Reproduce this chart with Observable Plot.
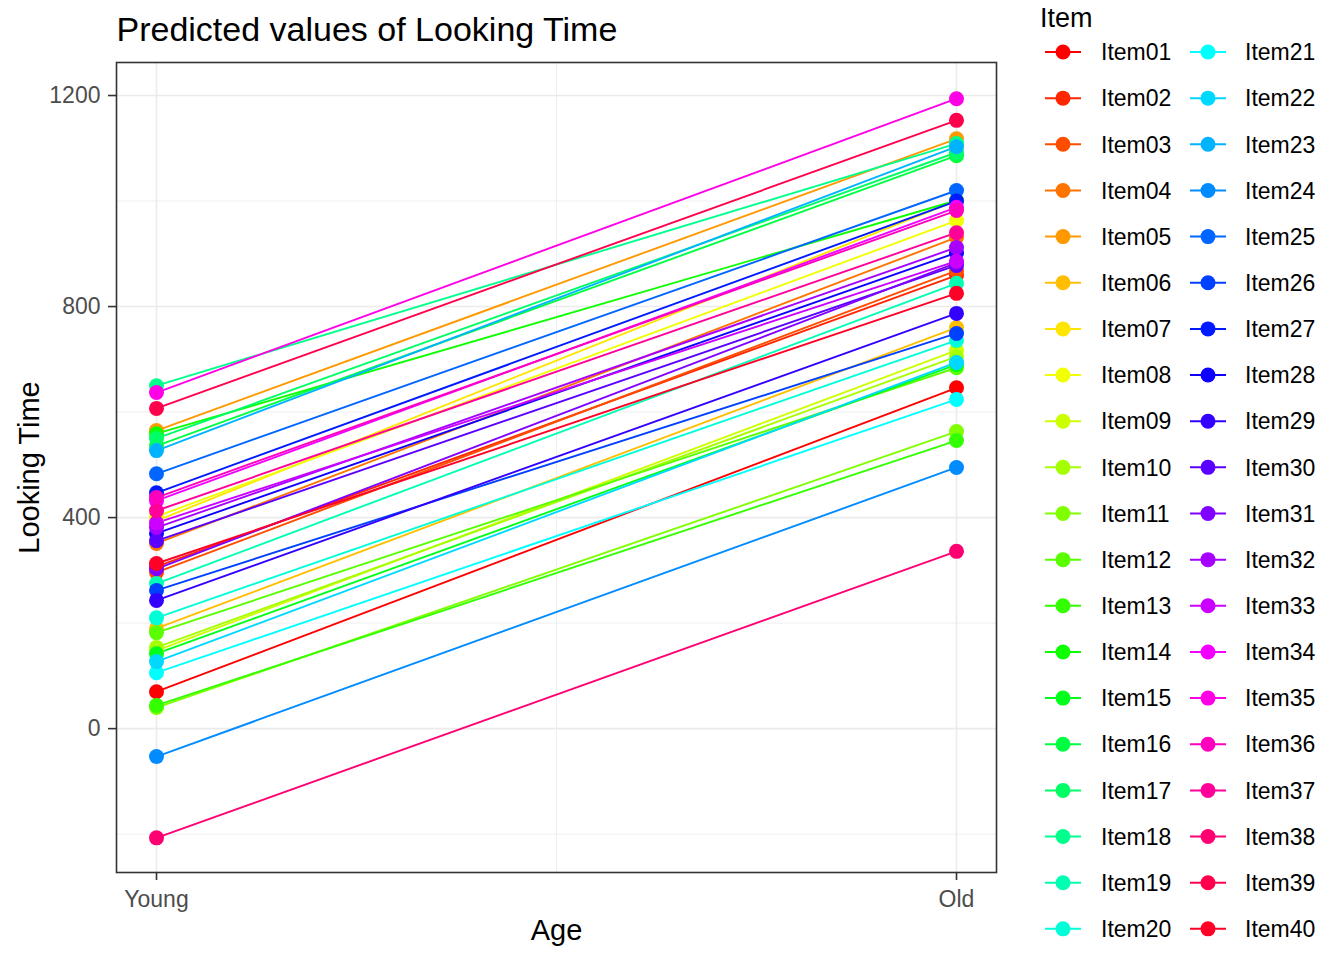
<!DOCTYPE html>
<html><head><meta charset="utf-8">
<script src="https://cdn.jsdelivr.net/npm/d3@7"></script>
<script src="https://cdn.jsdelivr.net/npm/@observablehq/plot@0.6"></script>
<style>
body{margin:0;background:#fff;}
#wrap{position:relative;width:1344px;height:960px;overflow:hidden;font-family:"Liberation Sans",Arial,sans-serif;background:#fff;}
#wrap svg.legend{position:absolute;left:0;top:0;pointer-events:none;}
</style></head><body><div id="wrap"></div>
<script>
const items = ["Item01","Item02","Item03","Item04","Item05","Item06","Item07","Item08","Item09","Item10",
  "Item11","Item12","Item13","Item14","Item15","Item16","Item17","Item18","Item19","Item20",
  "Item21","Item22","Item23","Item24","Item25","Item26","Item27","Item28","Item29","Item30",
  "Item31","Item32","Item33","Item34","Item35","Item36","Item37","Item38","Item39","Item40"];
const young = [70,307,296,351,565,190,394,402,148,154,
  40,182,44,559,142,536,550,650,275,210,
  106,127,527,-53,483,262,447,370,243,356,
  303,381,390,432,637,438,413,-207,607,313];
const old = [646,859,868,931,1118,760,1001,963,717,705,
  563,684,546,1001,690,1086,1092,1109,844,736,
  624,694,1103,495,1020,749,1000,902,787,878,
  883,912,886,988,1194,982,940,336,1153,825];
const ageLabels = ["Young","Old"];
const colors = ["#FF0000","#FF2600","#FF4D00","#FF7300","#FF9900","#FFBF00","#FFE500","#F2FF00","#CCFF00","#A6FF00",
  "#80FF00","#59FF00","#33FF00","#0DFF00","#00FF1A","#00FF40","#00FF66","#00FF8C","#00FFB3","#00FFD9",
  "#00FFFF","#00D9FF","#00B3FF","#008CFF","#0066FF","#0040FF","#001AFF","#0D00FF","#3300FF","#5900FF",
  "#8000FF","#A600FF","#CC00FF","#F200FF","#FF00E6","#FF00BF","#FF0099","#FF0073","#FF004D","#FF0026"];
const yTicks = [0,400,800,1200];
const yMinor = [-200,200,600,1000];

const data = items.flatMap((it,i)=>[
  {item:it, age:0, value:young[i]},
  {item:it, age:1, value:old[i]}
]);

const font = "'Liberation Sans', Arial, sans-serif";
const chart = Plot.plot({
  width:1344, height:960,
  marginLeft:116, marginRight:348, marginTop:62, marginBottom:88,
  style:{fontFamily:font, background:"white", color:"black"},
  x:{domain:[-0.05,1.05]},
  y:{domain:[-272.7,1262.6]},
  color:{type:"ordinal", domain:items, range:colors},
  marks:[
    Plot.ruleY(yMinor,{stroke:"#EBEBEB",strokeWidth:0.8}),
    Plot.ruleX([0.5],{stroke:"#EBEBEB",strokeWidth:0.8}),
    Plot.ruleY(yTicks,{stroke:"#EBEBEB",strokeWidth:1.6}),
    Plot.ruleX([0,1],{stroke:"#EBEBEB",strokeWidth:1.6}),
    Plot.line(data,{x:"age",y:"value",z:"item",stroke:"item",strokeWidth:1.9}),
    Plot.dot(data,{x:"age",y:"value",fill:"item",r:7.5}),
    Plot.frame({stroke:"#333333",strokeWidth:1.6}),
    Plot.axisY(yTicks,{anchor:"left",tickSize:8,tickPadding:8,fontSize:23,tickFormat:d=>String(d),stroke:"#333333",strokeWidth:1.6,fill:"#4D4D4D",label:null}),
    Plot.axisX([0,1],{anchor:"bottom",tickSize:8,tickPadding:10,fontSize:23,tickFormat:d=>ageLabels[d],stroke:"#333333",strokeWidth:1.6,fill:"#4D4D4D",label:null}),
    Plot.text(["Looking Time"],{text:d=>d,frameAnchor:"left",textAnchor:"middle",lineAnchor:"middle",rotate:-90,dx:-87,fontSize:29,fill:"black"}),
    Plot.text(["Age"],{text:d=>d,frameAnchor:"bottom",textAnchor:"middle",lineAnchor:"middle",dy:58.7,fontSize:29,fill:"black"}),
    Plot.text(["Predicted values of Looking Time"],{text:d=>d,frameAnchor:"top-left",textAnchor:"start",lineAnchor:"middle",dy:-32.2,fontSize:34,fill:"black"})
  ]
});
const wrap = document.getElementById("wrap");
wrap.appendChild(chart);

// legend
const leg = d3.select(wrap).append("svg").attr("class","legend")
  .attr("width",1344).attr("height",960)
  .style("font-family",font);
leg.append("text").attr("x",1040).attr("y",27).attr("font-size",27).attr("fill","black").text("Item");
items.forEach((it,i)=>{
  const col = Math.floor(i/20), row = i%20;
  const cx = 1063 + col*145, cy = 52 + row*46.15;
  const c = colors[i];
  leg.append("line").attr("x1",cx-18).attr("x2",cx+18).attr("y1",cy).attr("y2",cy)
    .attr("stroke",c).attr("stroke-width",2);
  leg.append("circle").attr("cx",cx).attr("cy",cy).attr("r",7.5).attr("fill",c);
  leg.append("text").attr("x",1101+col*144).attr("y",cy+8.2).attr("font-size",23).attr("fill","black").text(it);
});
</script></body></html>
